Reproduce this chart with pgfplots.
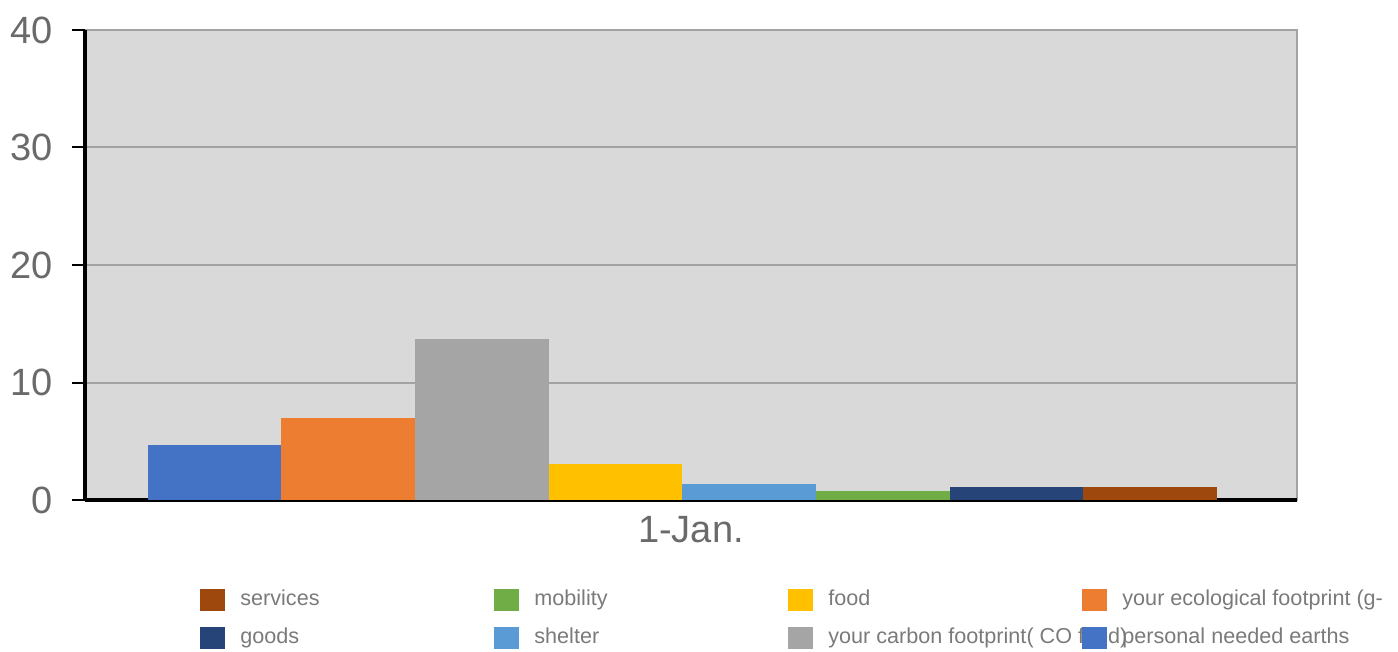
\documentclass[border=0pt]{standalone}
\usepackage{pgfplots}
\pgfplotsset{compat=1.18}
\usepackage{fontspec}
\setmainfont{Liberation Sans}
\definecolor{cPersonal}{HTML}{4472C4}
\definecolor{cEco}{HTML}{ED7D31}
\definecolor{cCarbon}{HTML}{A5A5A5}
\definecolor{cFood}{HTML}{FFC000}
\definecolor{cShelter}{HTML}{5B9BD5}
\definecolor{cMobility}{HTML}{70AD47}
\definecolor{cGoods}{HTML}{264478}
\definecolor{cServices}{HTML}{9E480E}
\definecolor{bgGray}{HTML}{D9D9D9}
\definecolor{gridGray}{HTML}{A3A3A3}
\definecolor{tickGray}{HTML}{6A6A6A}
\definecolor{legGray}{HTML}{7A7A7A}
\pgfplotsset{
  mybar/.style={fill=#1, draw=none,
    legend image code/.code={\fill[fill=#1] (0pt,-5.5pt) rectangle (12.5pt,5.5pt);}},
}
\newcommand{\lt}[1]{\makebox[127pt][l]{#1}}
\begin{document}
\begin{tikzpicture}
\begin{axis}[
  scale only axis,
  width=606pt, height=235pt,
  xmin=-0.97, xmax=8.10,
  ymin=0, ymax=40,
  ytick={0,10,20,30,40},
  xtick={3.565}, xticklabels={1-Jan.},
  ybar, bar width=1, bar shift=0pt,
  axis background/.style={fill=bgGray, draw=gridGray, line width=1pt},
  ymajorgrids,
  grid style={gridGray, line width=1pt},
  axis lines*=left,
  x axis line style={black, line width=1.6pt},
  y axis line style={black, line width=2pt},
  tick align=outside,
  major tick length=6.5pt,
  ytick style={black, line width=1pt},
  xtick style={draw=none},
  /pgf/number format/assume math mode=true,
  yticklabel style={font=\fontsize{19}{21}\selectfont, text=tickGray, xshift=-6pt},
  xticklabel style={font=\fontsize{19}{21}\selectfont, text=tickGray, yshift=2pt},
  clip=false,
  legend columns=4,
  legend cell align=left,
  legend style={at={(0.0949,-0.1885)}, anchor=north west, draw=none, fill=none,
    inner sep=0pt, font=\fontsize{10.8}{12}\selectfont, text=legGray,
    /tikz/every odd column/.style={column sep=7.5pt},
    row sep=8pt,
    nodes={inner sep=0pt, text height=0.75em, text depth=0.25em}},
]
\addplot[mybar=cServices] coordinates {(7,1.1)};
\addlegendentry{\lt{services}}
\addplot[mybar=cMobility] coordinates {(5,0.8)};
\addlegendentry{\lt{mobility}}
\addplot[mybar=cFood] coordinates {(3,3.05)};
\addlegendentry{\lt{food}}
\addplot[mybar=cEco] coordinates {(1,6.95)};
\addlegendentry{\lt{your ecological footprint (g-}}
\addplot[mybar=cGoods] coordinates {(6,1.1)};
\addlegendentry{\lt{goods}}
\addplot[mybar=cShelter] coordinates {(4,1.4)};
\addlegendentry{\lt{shelter}}
\addplot[mybar=cCarbon] coordinates {(2,13.7)};
\addlegendentry{\lt{your carbon footprint( CO food)}}
\addplot[mybar=cPersonal] coordinates {(0,4.7)};
\addlegendentry{\lt{personal needed earths}}
\path (rel axis cs:-0.0701,-0.3213) rectangle (rel axis cs:1.0833,1.0638);
\end{axis}
\end{tikzpicture}
\end{document}
